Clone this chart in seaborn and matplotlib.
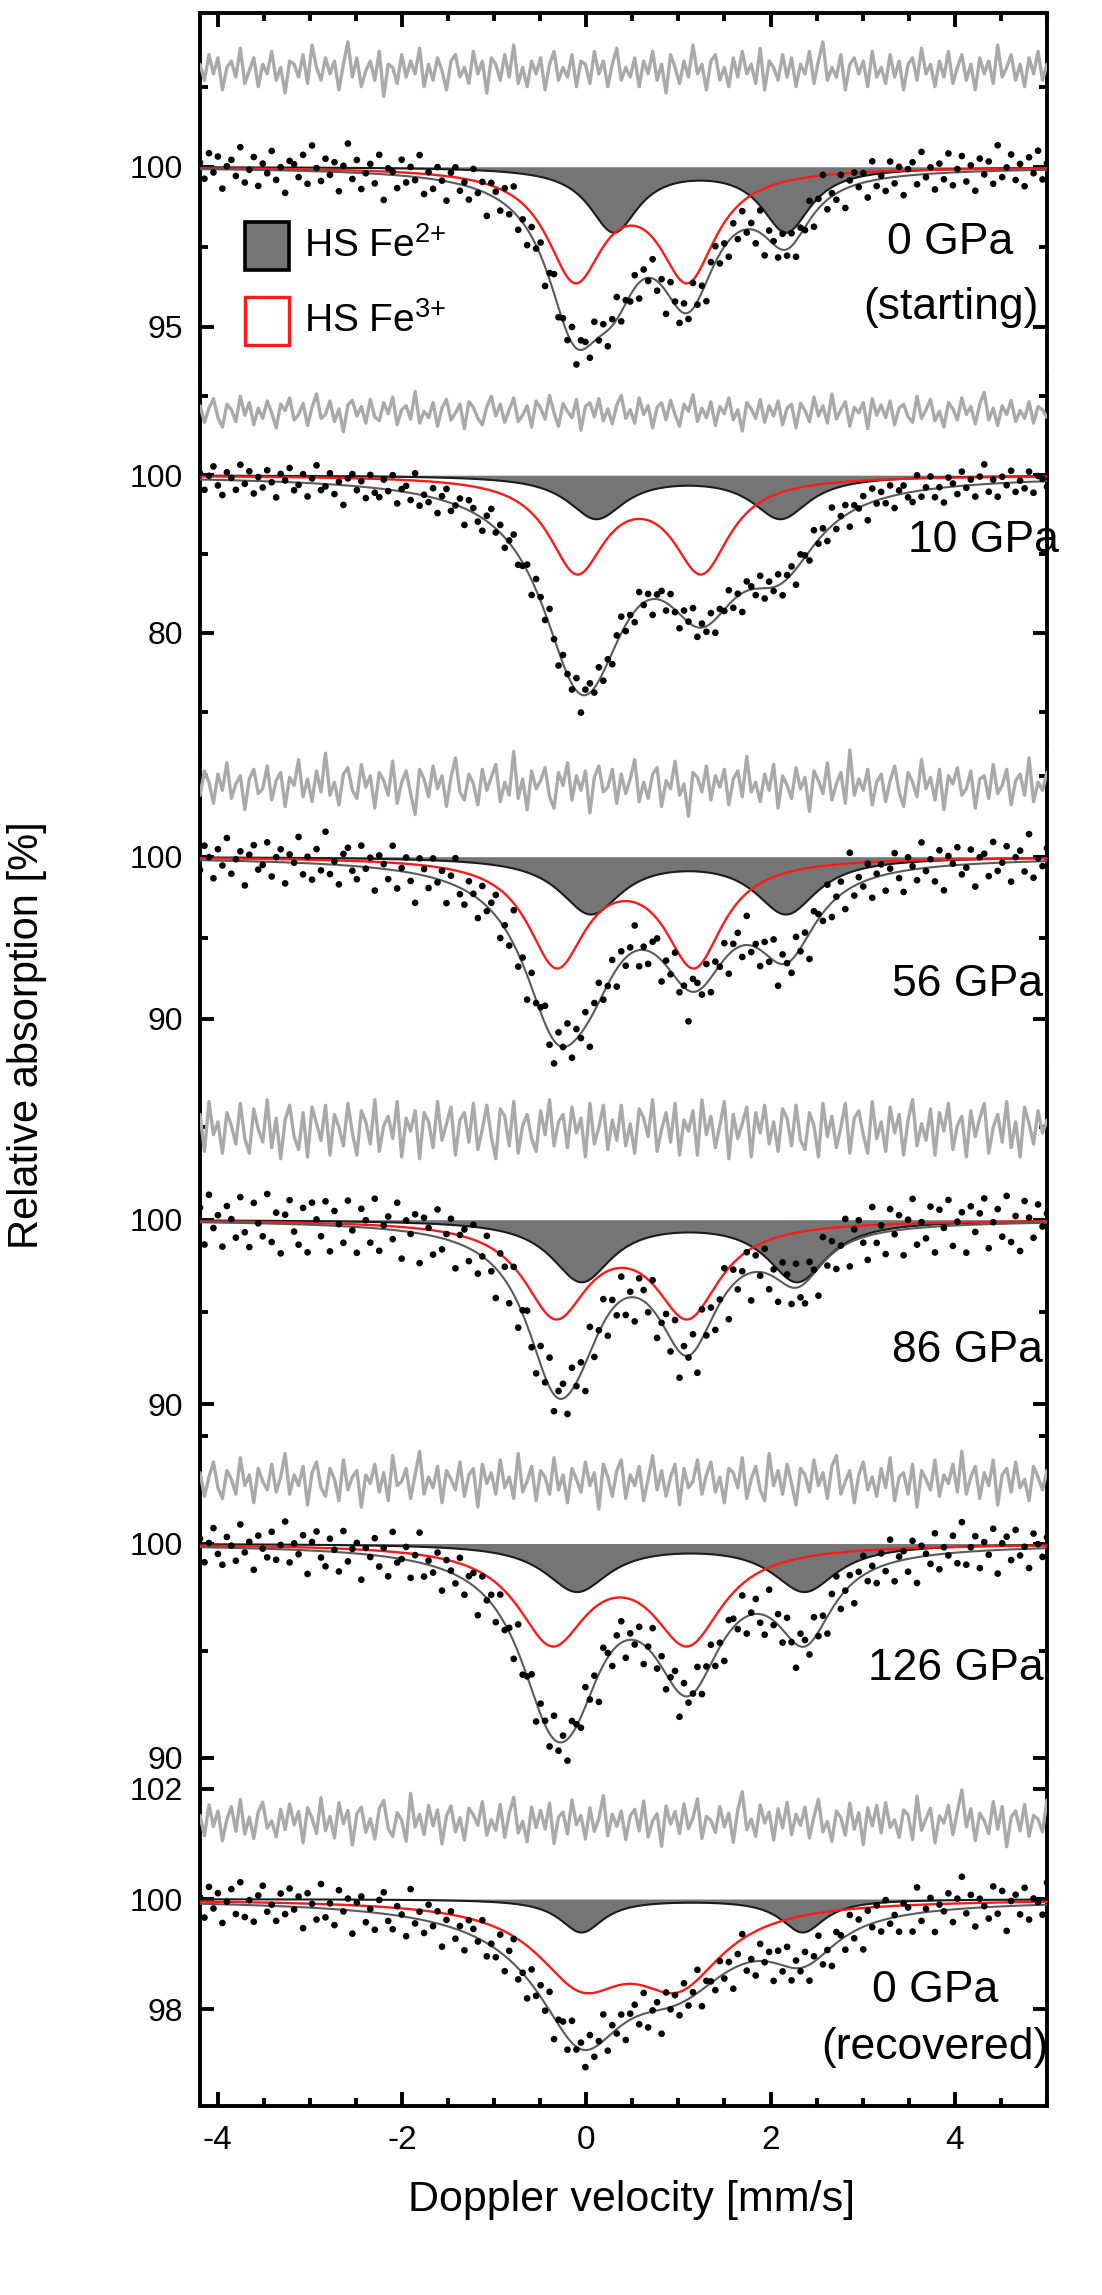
import numpy as np
import matplotlib
matplotlib.use("Agg")
import matplotlib.pyplot as plt
import seaborn as sns
from matplotlib.patches import Rectangle
from matplotlib.ticker import FixedLocator, MultipleLocator, StrMethodFormatter

sns.set_theme(style="ticks")
plt.rcParams["font.family"] = ["Liberation Sans", "DejaVu Sans"]
plt.rcParams["mathtext.fontset"] = "custom"
plt.rcParams["mathtext.rm"] = "Liberation Sans"
plt.rcParams["mathtext.it"] = "Liberation Sans:italic"
plt.rcParams["mathtext.bf"] = "Liberation Sans:bold"
plt.rcParams["axes.unicode_minus"] = False

# ---------------- layout (pixels of the 1102 x 2295 canvas) ----------------
W_PX, H_PX = 1102, 2295
FRAME_LEFT, FRAME_RIGHT = 200, 1047
PANEL_EDGES = [13, 375, 745, 1072, 1432, 1773, 2106]

# ---------------- velocity channels ----------------
V_MIN, V_MAX = -4.19, 5.0
N_CHANNELS = 190

# ---------------- panel annotations ----------------
panel_titles = [["0 GPa", "(starting)"], ["10 GPa"], ["56 GPa"], ["86 GPa"],
                ["126 GPa"], ["0 GPa", "(recovered)"]]
title_pos = [[(950, 243), (951, 308)], [(983, 540)], [(967, 985)], [(967, 1350)],
             [(956, 1668)], [(935, 1990), (935, 2048)]]

y_limits = [(93.5, 104.8), (65.8, 112.7), (86.7, 106.9), (88.5, 108.0),
            (89.3, 105.2), (96.24, 102.29)]
y_major = [[95, 100], [80, 100], [90, 100], [90, 100], [90, 100], [98, 100, 102]]
y_minor = [[97.5, 102.5], [70, 90, 110], [95, 105], [95, 105], [95, 105], []]

# ---------------- subspectra (Lorentzian doublets) ----------------
fe2_centers = [[0.30, 2.17], [0.11, 2.11], [0.05, 2.17], [-0.05, 2.29], [-0.10, 2.37], [-0.05, 2.35]]
fe2_amps = [2.0, 5.4, 3.45, 3.3, 2.2, 0.6]
fe2_fwhm = [0.65, 0.75, 0.82, 0.80, 0.85, 0.58]

fe3_centers = [[-0.12, 1.10], [-0.10, 1.25], [-0.32, 1.17], [-0.33, 1.10], [-0.37, 1.10], [-0.05, 1.00]]
fe3_amps = [3.35, 11.75, 6.5, 5.0, 4.4, 1.36]
fe3_fwhm = [0.75, 0.75, 0.77, 0.85, 0.93, 1.20]

# total fit: amplitudes of [Fe3+ line 1, Fe3+ line 2, Fe2+ line 1, Fe2+ line 2]
fit_amps = [[4.45, 3.7, 2.2, 2.0], [18.1, 13.5, 8.5, 9.0], [9.0, 6.5, 3.5, 5.1],
            [7.6, 6.4, 2.4, 2.8], [6.6, 6.0, 2.8, 3.9], [1.5, 1.2, 0.8, 0.8]]
fit_fwhm = [[0.75, 0.65], [1.0, 1.0], [0.9, 0.8], [0.8, 0.7], [0.9, 0.75], [1.5, 0.9]]

resid_offsets = [103.0, 108.0, 104.4, 104.9, 102.9, 101.4]

# ---------------- residuals (data - fit), in % ----------------
resid_0gpa_start = [
    0.2, -0.3, 0.5, -0.1, 0.4, -0.6, 0.1, 0.3, -0.2, 0.7, -0.4, 0.0, 0.4, -0.5, 0.2, -0.1, 0.6, -0.3, 0.1,
    -0.7, 0.3, 0.2, -0.2, 0.5, -0.4, 0.8, 0.1, -0.3, 0.4, -0.1, 0.3, -0.6, 0.2, 0.9, -0.2, 0.4, -0.5, 0.0,
    0.3, -0.3, 0.6, -0.8, 0.2, 0.1, -0.4, 0.5, -0.2, 0.3, -0.1, 0.7, -0.5, 0.2, -0.3, 0.4, 0.0, -0.6, 0.3,
    0.5, -0.2, 0.1, -0.4, 0.6, -0.1, 0.3, -0.7, 0.4, 0.2, -0.3, 0.5, -0.2, 0.8, -0.4, 0.1, -0.5, 0.3, -0.1,
    0.4, -0.6, 0.2, 0.6, -0.3, 0.1, -0.2, 0.5, -0.5, 0.3, 0.2, -0.4, 0.6, -0.1, 0.3, -0.5, 0.2, 0.7, -0.3,
    0.1, -0.2, 0.4, -0.5, 0.3, -0.1, 0.6, -0.3, 0.2, -0.7, 0.5, 0.1, -0.4, 0.3, -0.2, 0.8, -0.1, 0.2, -0.6,
    0.3, 0.5, -0.3, 0.1, -0.5, 0.4, -0.2, 0.6, -0.1, 0.2, -0.4, 0.7, -0.6, 0.3, 0.1, -0.3, 0.5, -0.2, 0.4,
    -0.5, 0.2, -0.1, 0.6, -0.4, 0.3, 0.9, -0.3, 0.1, -0.2, 0.5, -0.6, 0.2, 0.4, -0.1, 0.3, -0.5, 0.6, -0.2,
    0.1, -0.4, 0.5, -0.2, 0.3, -0.6, 0.2, 0.4, -0.3, 0.7, -0.1, 0.2, -0.5, 0.3, -0.2, 0.6, -0.4, 0.1, 0.5,
    -0.3, 0.2, -0.6, 0.4, -0.1, 0.3, -0.4, 0.8, -0.2, 0.1, 0.5, -0.3, 0.2, -0.5, 0.4, -0.1, 0.6, -0.3, 0.2,
]
resid_10gpa = [
    0.8, -1.3, 0.5, 1.7, -0.7, -1.9, 1.0, 0.3, -1.2, 2.0, -0.4, 1.2, -1.6, 0.5, -0.8, 1.4, -0.1, -2.0, 1.0,
    0.2, 1.8, -1.0, -0.3, 1.1, -1.7, 0.6, 2.3, -0.8, -0.3, 1.4, -1.2, 0.4, -2.5, 0.9, 1.5, -0.5, 0.7, -1.4,
    1.6, -0.6, -1.1, 1.2, -0.2, 1.9, -1.6, 0.3, 0.8, -0.9, 2.6, -1.4, 0.1, -0.7, 1.2, -1.8, 0.5, 1.6, -1.0,
    -0.1, 1.0, -2.1, 1.3, 0.6, -0.8, -1.6, 0.7, 2.0, -0.5, 1.0, -1.3, 0.3, 1.8, -1.2, -0.4, 0.8, -1.9, 1.4,
    0.5, -0.9, 2.1, -0.1, -1.8, 1.1, 0.1, -0.7, 1.6, -2.3, 0.7, 1.2, -0.6, 1.7, -1.1, 0.4, -1.5, 0.9, 2.1,
    -0.8, 0.3, -1.4, 1.8, -0.3, 0.8, -2.0, 0.6, 1.2, -1.0, 1.5, -0.3, -1.8, 1.0, 0.1, 2.2, -1.2, 0.5, -0.7,
    1.3, -1.7, 0.7, -0.2, 1.8, -1.0, 0.3, -2.4, 1.2, 0.4, -0.8, 1.6, -1.3, 0.8, -0.5, 1.4, -1.6, 0.5, 1.0,
    -2.0, 1.1, 0.2, -1.2, 1.9, -0.5, 0.8, -1.4, 2.3, -0.9, 0.3, 1.3, -1.8, 0.6, -0.1, 1.2, -2.1, 1.7, -0.4,
    0.9, -0.7, 1.4, -1.6, 0.5, 1.0, -0.6, -1.3, 2.0, -0.8, 0.3, 1.6, -1.1, 0.1, -1.9, 1.2, 0.4, -1.0, 1.8,
    -0.3, 0.7, -1.5, 1.0, 2.5, -1.0, 0.5, -1.7, 0.8, -0.3, 1.5, -1.2, 0.2, -0.8, 1.3, -1.4, 0.7, 0.3, -0.7,
]
resid_56gpa = [
    -0.6, 0.9, 0.2, -1.1, 0.7, -0.3, 1.4, -0.8, 0.1, 0.6, -1.5, 0.4, 1.0, -0.5, -0.2, 1.2, -0.9, 0.3, 0.8,
    -1.3, 0.5, 0.0, 1.6, -0.7, 0.4, -1.0, 0.9, -0.4, 2.0, -0.6, 0.2, -1.2, 0.7, 1.1, -0.3, -0.8, 1.3, -0.1,
    0.6, -1.4, 0.8, 0.3, -0.6, 1.5, -1.1, 0.2, 0.9, -0.5, -1.8, 1.0, 0.4, -0.7, 1.2, -0.2, 0.6, -1.3, 0.5,
    1.7, -0.4, -0.9, 0.7, 0.1, -1.2, 1.0, -0.3, 0.5, 1.3, -1.0, 0.2, -0.6, 2.1, -0.8, 0.4, -1.5, 0.9, -0.2,
    0.3, 1.1, -0.7, -1.4, 0.8, 0.0, 1.4, -0.9, 0.6, -0.3, 0.9, -1.7, 0.5, 1.2, -0.4, -0.1, 1.0, -1.1, 0.7,
    -0.5, 0.4, 1.6, -1.0, 0.2, -0.8, 0.7, 1.1, -1.3, 0.3, -0.2, 1.5, -0.6, 0.1, -1.9, 0.8, 0.5, -0.4, 1.2,
    -0.9, 0.6, -0.1, 1.0, -1.2, 0.4, 0.9, -0.7, 1.8, -0.4, 0.2, -1.0, 0.7, -0.3, 1.3, -1.4, 0.6, 0.0, -0.8,
    1.1, -0.2, 0.5, -1.6, 0.9, 0.3, -0.5, 1.4, -0.9, 0.1, 0.8, -1.1, 2.2, -0.6, 0.4, -0.3, 1.0, -1.2, 0.2,
    0.7, -1.0, 0.3, 1.2, -0.4, -1.3, 0.8, 0.2, -0.7, 1.6, -0.2, 0.5, -0.9, 1.0, -1.5, 0.6, 0.1, 1.1, -0.6,
    -0.2, 0.9, -1.4, 0.4, 0.6, -0.8, 1.3, -0.5, 0.0, 1.0, -1.2, 0.3, 0.7, -0.6, 1.7, -1.0, 0.2, -0.3, 0.8,
]
resid_86gpa = [
    0.8, -1.2, 1.5, -0.3, 0.4, -1.3, 0.9, 0.2, -0.8, 1.4, -0.5, -1.3, 1.1, 0.0, -0.7, 1.6, -1.0, 0.6, -1.6,
    0.5, 1.3, -0.4, -1.1, 0.9, -1.5, 1.2, 0.3, -0.6, 1.3, -1.4, 0.8, 0.1, -0.9, 1.4, -0.2, -1.4, 1.0, 0.4,
    -0.8, 1.6, -1.2, 0.2, 0.7, -0.5, 1.5, -1.5, 0.6, -0.1, 1.0, -1.6, 0.9, 0.4, -1.0, 1.5, -0.6, 0.3, 1.2,
    -1.4, 0.5, 0.9, -0.7, 1.4, -1.1, 0.0, 1.3, -0.4, -1.6, 1.1, 0.7, -0.9, 1.5, -1.3, 0.2, 0.8, -0.5, -1.2,
    1.0, -0.3, 1.6, -0.9, 0.4, 0.8, -1.0, 1.2, -0.2, 0.6, -1.5, 1.4, -0.8, 0.1, 1.3, -1.1, 0.5, -0.6, 1.3,
    -0.9, 0.3, -1.3, 1.1, 0.6, -0.4, 1.6, -1.2, 0.0, 0.9, -0.7, 1.4, -1.4, 0.5, -0.1, 1.0, -1.4, 1.6, -0.3,
    0.7, -1.0, 0.2, 1.5, -1.6, 0.8, -0.5, 0.3, 1.2, -1.5, 0.9, -0.2, 1.3, -0.8, 0.4, -1.2, 1.1, 0.6, -0.9,
    1.3, -0.6, -1.1, 0.9, 0.2, -1.5, 1.4, -0.4, 0.7, -1.0, 0.1, 1.4, -1.3, 0.6, 1.0, -0.3, -1.3, 1.5, -0.5,
    0.4, -1.2, 1.2, -0.2, 0.8, -1.4, 0.5, 1.6, -0.9, 0.3, -0.6, 1.1, -1.4, 0.9, -0.1, 1.4, -1.1, 0.2, 0.7,
    -1.5, 1.0, -0.4, 0.6, 1.4, -1.3, 0.1, 0.8, -0.7, 1.5, -1.0, 0.4, -1.5, 1.2, 0.3, -0.8, 1.0, -0.2, 0.5,
]
resid_126gpa = [
    0.4, -0.7, 0.2, 0.9, -0.3, -0.8, 0.5, 0.1, -0.6, 1.1, -0.2, 0.3, -1.0, 0.6, 0.0, -0.4, 0.8, -0.5, 0.2,
    1.3, -0.6, 0.3, -0.2, 0.7, -1.1, 0.4, 0.9, -0.3, -0.7, 0.6, 0.1, -0.9, 1.0, -0.4, 0.2, 0.5, -1.2, 0.3,
    -0.1, 0.8, -0.5, 0.4, -0.9, 1.2, -0.2, 0.0, 0.6, -0.8, 0.3, 1.4, -0.6, 0.2, -0.3, 0.7, -1.0, 0.5, 0.1,
    -0.4, 0.9, -0.7, 0.3, 0.6, -1.2, 0.8, -0.1, 0.4, -0.6, 1.0, -0.3, 0.2, -0.8, 1.3, -0.5, 0.0, 0.7, -0.9,
    0.5, 0.2, -0.6, 1.1, -0.4, 0.3, -1.0, 0.6, 0.1, -0.5, 0.9, -0.2, 0.4, -1.3, 0.8, 0.2, -0.7, 0.5, 1.0,
    -0.8, 0.3, -0.2, 0.7, -0.9, 0.1, 1.2, -0.4, 0.5, -0.7, 0.2, 0.8, -1.1, 0.6, -0.3, 0.0, 1.0, -0.6, 0.3,
    0.9, -0.5, 0.2, -1.0, 0.6, 0.4, -0.3, 1.1, -0.8, 0.1, 0.7, -0.4, -0.9, 1.3, -0.2, 0.5, -0.6, 0.8, -0.1,
    -1.1, 0.6, 0.3, -0.5, 1.0, -0.2, 0.4, -0.8, 0.7, 1.2, -0.6, 0.0, 0.5, -1.0, 0.3, 0.9, -0.4, 0.2, -0.7,
    0.6, -0.3, 1.1, -0.9, 0.2, 0.4, -0.6, 0.8, -1.2, 0.5, 0.1, -0.4, 1.0, -0.7, 0.3, -0.1, 0.8, -0.5, 1.4,
    -0.6, 0.2, 0.7, -0.8, 0.4, -0.2, 1.0, -1.1, 0.3, 0.6, -0.5, 0.9, -0.3, 0.1, -0.9, 0.7, 0.2, -0.4, 0.5,
]
resid_0gpa_rec = [
    0.12, -0.25, 0.31, -0.08, 0.20, -0.34, 0.05, 0.28, -0.17, 0.41, -0.22, 0.09, -0.30, 0.18, 0.36, -0.11, 0.02, -0.27, 0.23,
    -0.14, 0.33, -0.05, 0.19, -0.38, 0.26, 0.07, -0.21, 0.44, -0.16, 0.10, -0.29, 0.35, -0.03, 0.21, -0.42, 0.15, 0.27, -0.19,
    0.06, -0.31, 0.24, 0.39, -0.12, -0.26, 0.17, 0.03, -0.35, 0.52, -0.09, 0.14, -0.23, 0.30, -0.07, 0.22, -0.40, 0.11, 0.29,
    -0.18, 0.08, -0.33, 0.25, 0.13, -0.06, 0.37, -0.24, 0.04, -0.15, 0.32, -0.28, 0.16, 0.45, -0.20, 0.01, -0.36, 0.27, -0.10,
    0.21, -0.13, 0.34, -0.39, 0.09, 0.18, -0.22, 0.40, -0.05, 0.12, -0.31, 0.26, -0.17, 0.06, 0.48, -0.25, 0.14, -0.08, 0.20,
    -0.32, 0.11, 0.23, -0.16, 0.38, -0.27, 0.02, 0.15, -0.44, 0.29, -0.04, 0.19, -0.21, 0.33, -0.12, 0.07, 0.42, -0.30, 0.10,
    0.03, -0.19, 0.28, -0.09, 0.16, -0.37, 0.22, 0.55, -0.14, 0.05, -0.26, 0.31, -0.02, 0.18, -0.33, 0.24, -0.11, 0.36, -0.23,
    0.14, -0.06, 0.27, -0.29, 0.10, 0.41, -0.18, 0.01, -0.35, 0.20, 0.08, -0.24, 0.34, -0.13, 0.17, -0.41, 0.26, -0.07, 0.30,
    -0.20, 0.35, -0.10, 0.04, -0.28, 0.22, 0.13, -0.32, 0.47, -0.15, 0.06, 0.25, -0.38, 0.11, -0.02, 0.30, -0.23, 0.19, 0.58,
    -0.09, 0.24, -0.34, 0.16, 0.02, -0.21, 0.37, -0.13, 0.28, -0.45, 0.09, 0.20, -0.16, 0.32, -0.26, 0.12, 0.05, -0.18, 0.40,
]
residuals = [resid_0gpa_start, resid_10gpa, resid_56gpa, resid_86gpa, resid_126gpa, resid_0gpa_rec]

# ---------------- styling ----------------
FE2_FILL = "#757575"
FE2_EDGE = "#1c1c1c"
FE3_COLOR = "#ff1a1a"
FIT_COLOR = "#5a5a5a"
RESID_COLOR = "#a9a9a9"
SPINE_W = 2.8


def lorentz(v, center, fwhm):
    return 1.0 / (1.0 + (2.0 * (v - center) / fwhm) ** 2)


def doublet(v, centers, amp, fwhm):
    return amp * (lorentz(v, centers[0], fwhm) + lorentz(v, centers[1], fwhm))


def total_fit(v, i):
    a = fit_amps[i]
    wr, wf = fit_fwhm[i]
    r1, r2 = fe3_centers[i]
    f1, f2 = fe2_centers[i]
    return 100.0 - (a[0] * lorentz(v, r1, wr) + a[1] * lorentz(v, r2, wr)
                    + a[2] * lorentz(v, f1, wf) + a[3] * lorentz(v, f2, wf))


def fx(px):
    return px / W_PX


def fy(py):
    return 1.0 - py / H_PX


vel = np.linspace(V_MIN, V_MAX, N_CHANNELS)
vfine = np.linspace(V_MIN, V_MAX, 900)

fig = plt.figure(figsize=(W_PX / 100, H_PX / 100), dpi=100)
fig.patch.set_facecolor("white")

for i in range(6):
    top, bottom = PANEL_EDGES[i], PANEL_EDGES[i + 1]
    ax = fig.add_axes([fx(FRAME_LEFT), fy(bottom), fx(FRAME_RIGHT) - fx(FRAME_LEFT),
                       (bottom - top) / H_PX])
    ax.set_facecolor("none")

    fe2 = 100.0 - doublet(vfine, fe2_centers[i], fe2_amps[i], fe2_fwhm[i])
    fe3 = 100.0 - doublet(vfine, fe3_centers[i], fe3_amps[i], fe3_fwhm[i])
    fit_curve = total_fit(vfine, i)
    resid = np.asarray(residuals[i])
    data = total_fit(vel, i) + resid

    ax.fill_between(vfine, fe2, 100.0, color=FE2_FILL, lw=0, zorder=1)
    sns.lineplot(x=vfine, y=fe2, color=FE2_EDGE, lw=1.5, ax=ax, estimator=None, sort=False, zorder=2)
    sns.lineplot(x=vfine, y=fe3, color=FE3_COLOR, lw=1.7, ax=ax, estimator=None, sort=False, zorder=3)
    sns.lineplot(x=vfine, y=fit_curve, color=FIT_COLOR, lw=1.5, ax=ax, estimator=None, sort=False, zorder=4)
    sns.lineplot(x=vel, y=resid_offsets[i] + resid, color=RESID_COLOR, lw=2.4, ax=ax,
                 estimator=None, sort=False, zorder=3)
    sns.scatterplot(x=vel, y=data, color="black", s=23, edgecolor="none", ax=ax, zorder=5)

    ax.set_xlim(V_MIN, V_MAX)
    ax.set_ylim(*y_limits[i])
    ax.set_xlabel("")
    ax.set_ylabel("")

    # frame
    for side in ["left", "right", "top", "bottom"]:
        ax.spines[side].set_linewidth(SPINE_W)
        ax.spines[side].set_color("black")
    ax.spines["top"].set_visible(i == 0)
    ax.spines["bottom"].set_visible(i == 5)

    # y ticks
    ax.yaxis.set_major_locator(FixedLocator(y_major[i]))
    ax.yaxis.set_minor_locator(FixedLocator(y_minor[i]))
    ax.yaxis.set_major_formatter(StrMethodFormatter("{x:.0f}"))
    ax.tick_params(axis="y", which="both", direction="in", left=True, right=True,
                   labelleft=True, labelright=False, width=SPINE_W, color="black",
                   labelsize=23, labelcolor="black", pad=12)
    ax.tick_params(axis="y", which="major", length=10)
    ax.tick_params(axis="y", which="minor", length=6)

    # x ticks
    ax.xaxis.set_major_locator(MultipleLocator(2))
    ax.xaxis.set_minor_locator(MultipleLocator(0.5))
    ax.tick_params(axis="x", which="both", direction="in", top=(i == 0), bottom=(i == 5),
                   labeltop=False, labelbottom=(i == 5), width=SPINE_W, color="black",
                   labelsize=24, labelcolor="black", pad=14)
    ax.tick_params(axis="x", which="major", length=10)
    ax.tick_params(axis="x", which="minor", length=6)

    for label, (px, py) in zip(panel_titles[i], title_pos[i]):
        fig.text(fx(px), fy(py), label, ha="center", va="center", fontsize=32, color="black")

# legend of the two iron sites
legend_items = [("HS Fe$^{2{+}}$", FE2_FILL, "black", 2.6, 222),
                ("HS Fe$^{3{+}}$", "white", "#ff1a1a", 2.4, 297)]
for text, face, edge, lw, top_px in legend_items:
    fig.patches.append(Rectangle((fx(245), fy(top_px + 48)), fx(289) - fx(245), 48 / H_PX,
                                 transform=fig.transFigure, facecolor=face, edgecolor=edge,
                                 linewidth=lw, zorder=6))
    fig.text(fx(304), fy(top_px + 24), text, ha="left", va="center", fontsize=28, color="black")

fig.text(fx(27), fy(1035), "Relative absorption [%]", rotation=90, ha="center", va="center",
         fontsize=30, color="black")
fig.text(fx(632), fy(2200), "Doppler velocity [mm/s]", ha="center", va="center",
         fontsize=31, color="black")

fig.savefig("out.png", dpi=100, facecolor="white")
